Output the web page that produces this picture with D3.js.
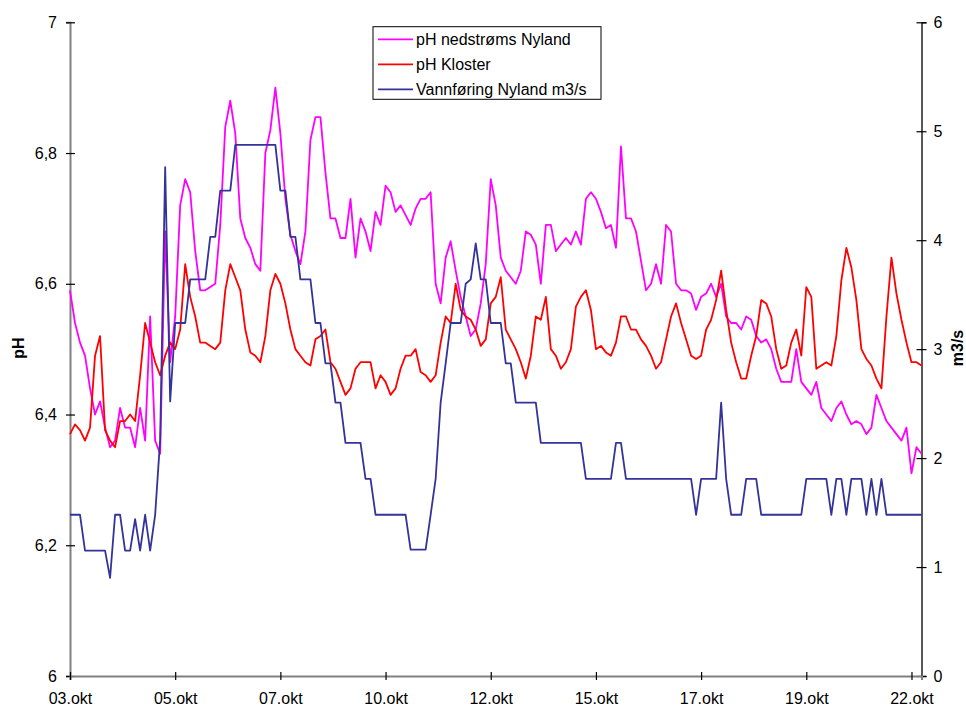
<!DOCTYPE html>
<html>
<head>
<meta charset="utf-8">
<script src="https://cdn.jsdelivr.net/npm/d3@7"></script>
<style>
  html, body { margin: 0; padding: 0; background: #fff; }
  svg { display: block; font-family: "Liberation Sans", Arial, sans-serif; }
</style>
</head>
<body>
<svg id="chart" width="966" height="706"></svg>
<script>
// ---------- data ----------
const xTickLabels = ["03.okt","05.okt","07.okt","10.okt","12.okt","15.okt","17.okt","19.okt","22.okt"];
const xTickIndex  = [0, 21, 42, 63, 84, 105, 126, 147, 168];
const phTicks = [6, 6.2, 6.4, 6.6, 6.8, 7];
const flowTicks = [0, 1, 2, 3, 4, 5, 6];
const seriesNames = ["pH nedstrøms Nyland", "pH Kloster", "Vannføring Nyland m3/s"];

const phNyland = [
  6.59,6.54,6.51,6.49,6.44,6.40,6.42,6.38,6.35,6.36,
  6.41,6.38,6.38,6.35,6.41,6.36,6.55,6.36,6.34,6.68,
  6.48,6.55,6.72,6.76,6.74,6.65,6.59,6.59,6.595,6.60,
  6.69,6.84,6.88,6.83,6.70,6.67,6.655,6.63,6.62,6.80,
  6.835,6.90,6.83,6.73,6.675,6.65,6.63,6.68,6.82,6.855,
  6.855,6.77,6.70,6.70,6.67,6.67,6.73,6.64,6.70,6.68,
  6.65,6.71,6.69,6.75,6.74,6.71,6.72,6.705,6.69,6.715,
  6.73,6.73,6.74,6.60,6.57,6.64,6.665,6.62,6.58,6.55,
  6.52,6.53,6.57,6.63,6.76,6.72,6.64,6.62,6.61,6.60,
  6.62,6.68,6.675,6.66,6.60,6.69,6.69,6.65,6.66,6.67,
  6.66,6.68,6.66,6.73,6.74,6.73,6.71,6.685,6.69,6.655,
  6.81,6.70,6.70,6.68,6.635,6.59,6.60,6.63,6.60,6.69,
  6.68,6.60,6.59,6.59,6.585,6.56,6.58,6.585,6.60,6.58,
  6.60,6.55,6.54,6.54,6.53,6.55,6.545,6.52,6.51,6.515,
  6.50,6.47,6.45,6.45,6.45,6.50,6.45,6.44,6.43,6.45,
  6.41,6.40,6.39,6.41,6.42,6.40,6.385,6.39,6.385,6.37,
  6.38,6.43,6.41,6.39,6.38,6.37,6.36,6.38,6.31,6.35,6.34
];

const phKloster = [
  6.37,6.385,6.376,6.36,6.38,6.49,6.52,6.376,6.36,6.35,
  6.39,6.39,6.40,6.39,6.46,6.54,6.51,6.48,6.46,6.49,
  6.51,6.50,6.53,6.63,6.58,6.55,6.51,6.51,6.505,6.50,
  6.51,6.59,6.63,6.61,6.59,6.53,6.495,6.49,6.48,6.52,
  6.59,6.615,6.60,6.57,6.53,6.50,6.49,6.48,6.475,6.515,
  6.52,6.53,6.48,6.47,6.45,6.43,6.44,6.47,6.48,6.48,
  6.48,6.44,6.46,6.45,6.43,6.44,6.47,6.49,6.49,6.50,
  6.465,6.46,6.45,6.46,6.51,6.55,6.54,6.60,6.56,6.55,
  6.545,6.53,6.505,6.515,6.57,6.58,6.61,6.53,6.515,6.50,
  6.48,6.455,6.49,6.55,6.545,6.58,6.50,6.49,6.47,6.48,
  6.50,6.565,6.58,6.59,6.56,6.50,6.505,6.495,6.49,6.51,
  6.55,6.55,6.53,6.53,6.515,6.505,6.49,6.47,6.48,6.515,
  6.55,6.57,6.54,6.515,6.49,6.485,6.49,6.53,6.545,6.575,
  6.62,6.56,6.51,6.48,6.455,6.455,6.49,6.52,6.575,6.57,
  6.55,6.50,6.47,6.475,6.51,6.53,6.49,6.595,6.58,6.47,
  6.475,6.48,6.475,6.52,6.605,6.655,6.625,6.575,6.50,6.485,
  6.475,6.455,6.44,6.55,6.64,6.585,6.545,6.51,6.48,6.48,6.475
];

const flowNyland = [
  1.48,1.48,1.48,1.15,1.15,1.15,1.15,1.15,0.90,1.48,
  1.48,1.15,1.15,1.44,1.15,1.48,1.15,1.48,2.17,4.67,
  2.52,3.24,3.24,3.24,3.64,3.64,3.64,3.64,4.03,4.03,
  4.455,4.455,4.455,4.875,4.875,4.875,4.875,4.875,4.875,4.875,
  4.875,4.875,4.455,4.455,4.03,4.03,3.64,3.64,3.64,3.24,
  3.24,2.87,2.87,2.51,2.51,2.14,2.14,2.14,2.14,1.81,
  1.81,1.48,1.48,1.48,1.48,1.48,1.48,1.48,1.16,1.16,
  1.16,1.16,1.48,1.81,2.51,2.87,3.24,3.24,3.24,3.60,
  3.64,3.97,3.64,3.64,3.24,3.24,3.24,2.87,2.87,2.51,
  2.51,2.51,2.51,2.51,2.14,2.14,2.14,2.14,2.14,2.14,
  2.14,2.14,2.14,1.81,1.81,1.81,1.81,1.81,1.81,2.14,
  2.14,1.81,1.81,1.81,1.81,1.81,1.81,1.81,1.81,1.81,
  1.81,1.81,1.81,1.81,1.81,1.48,1.81,1.81,1.81,1.81,
  2.51,1.81,1.48,1.48,1.48,1.81,1.81,1.81,1.48,1.48,
  1.48,1.48,1.48,1.48,1.48,1.48,1.48,1.81,1.81,1.81,
  1.81,1.81,1.48,1.81,1.81,1.48,1.81,1.81,1.81,1.48,
  1.81,1.48,1.81,1.48,1.48,1.48,1.48,1.48,1.48,1.48,1.48
];

const colors = ["#FF00FF", "#FF0000", "#333399"];

// ---------- layout ----------
const svg = d3.select("#chart");
const L = 70, R = 921.5, T = 22.3, B = 676;
const n = phNyland.length;

const x = d3.scaleLinear().domain([0, n - 1]).range([L, R]);
const yL = d3.scaleLinear().domain([6, 7]).range([B, T]);
const yR = d3.scaleLinear().domain([0, 6]).range([B, T]);

const fmtPh = d => String(+d.toFixed(1)).replace(".", ",");

// axes
const gLeft = svg.append("g").attr("transform", `translate(${L},0)`)
  .call(d3.axisLeft(yL).tickValues(phTicks).tickFormat(fmtPh).tickSize(4).tickPadding(9));
gLeft.select(".domain").attr("stroke", "#808080").attr("stroke-width", 2);
gLeft.selectAll(".tick line").attr("x1", -4).attr("x2", 5).attr("stroke", "#000").attr("stroke-width", 1.2);

const gRight = svg.append("g").attr("transform", `translate(${R},0)`)
  .call(d3.axisRight(yR).tickValues(flowTicks).tickFormat(d3.format("d")).tickSize(5).tickPadding(7));
gRight.select(".domain").attr("stroke", "#222").attr("stroke-width", 1.5);
gRight.selectAll(".tick line").attr("x1", -5).attr("x2", 5).attr("stroke", "#000").attr("stroke-width", 1.2);

const gBottom = svg.append("g").attr("transform", `translate(0,${B})`)
  .call(d3.axisBottom(x).tickValues(xTickIndex)
    .tickFormat((d, i) => xTickLabels[i]).tickSize(4).tickPadding(13));
gBottom.select(".domain").attr("stroke", "#808080").attr("stroke-width", 2);
gBottom.selectAll(".tick line").attr("y1", -4).attr("y2", 4).attr("stroke", "#000").attr("stroke-width", 1.2);

[gLeft, gRight, gBottom].forEach(g => {
  g.selectAll("text").attr("font-size", 16).attr("fill", "#000")
   .attr("font-family", "'Liberation Sans', Arial, sans-serif");
});

// axis titles
svg.append("text")
  .attr("transform", "translate(24,348) rotate(-90)")
  .attr("text-anchor", "middle")
  .attr("font-size", 16).attr("font-weight", "bold")
  .text("pH");
svg.append("text")
  .attr("transform", "translate(963,348) rotate(-90)")
  .attr("text-anchor", "middle")
  .attr("font-size", 16).attr("font-weight", "bold")
  .text("m3/s");

// lines
const lineL = d3.line().x((d, i) => x(i)).y(d => yL(d));
const lineR = d3.line().x((d, i) => x(i)).y(d => yR(d));

const plot = svg.append("g");
plot.append("path").datum(phNyland).attr("d", lineL)
  .attr("fill", "none").attr("stroke", colors[0]).attr("stroke-width", 1.8)
  .attr("stroke-linejoin", "round");
plot.append("path").datum(phKloster).attr("d", lineL)
  .attr("fill", "none").attr("stroke", colors[1]).attr("stroke-width", 1.8)
  .attr("stroke-linejoin", "round");
plot.append("path").datum(flowNyland).attr("d", lineR)
  .attr("fill", "none").attr("stroke", colors[2]).attr("stroke-width", 1.8)
  .attr("stroke-linejoin", "round");

// legend
const lg = svg.append("g").attr("transform", "translate(373,26.7)");
lg.append("rect").attr("width", 228).attr("height", 72.6)
  .attr("fill", "#fff").attr("stroke", "#000").attr("stroke-width", 1);
seriesNames.forEach((name, i) => {
  const yy = 12.6 + i * 25;
  lg.append("line").attr("x1", 5).attr("x2", 40).attr("y1", yy).attr("y2", yy)
    .attr("stroke", colors[i]).attr("stroke-width", 1.8);
  lg.append("text").attr("x", 43).attr("y", yy + 5.6)
    .attr("font-size", 16).attr("fill", "#000").text(name);
});
</script>
</body>
</html>
